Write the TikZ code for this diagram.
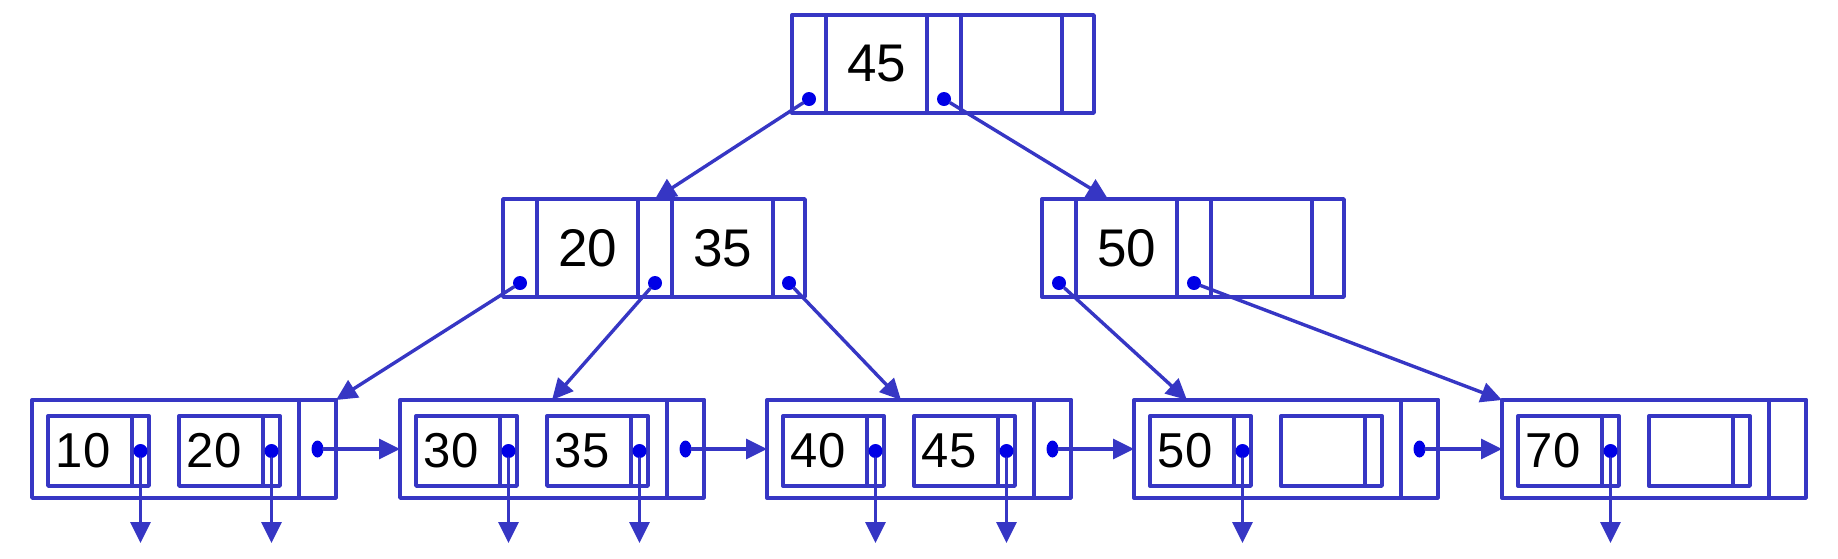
\documentclass[tikz,border=0pt]{standalone}
\usepackage{fontspec}
\setmainfont{Liberation Sans}
\usetikzlibrary{arrows.meta,shapes.geometric}
\definecolor{bblue}{RGB}{54,54,196}
\definecolor{dblue}{RGB}{0,0,230}
\begin{document}
\begin{tikzpicture}[x=0.5pt, y=-0.5pt, line join=round, line cap=round,
  >={Triangle[length=10.5pt,width=10pt]},
  cell/.style={draw=bblue, line width=1.7pt, inner sep=0pt, outer sep=0pt, anchor=north west},
  ptr/.style={cell, minimum width=17pt, minimum height=49pt},
  key/.style={cell, minimum width=50.5pt, minimum height=49pt, font=\fontsize{26.5}{30}\selectfont},
  leaf/.style={cell, minimum width=152pt, minimum height=49pt},
  entry/.style={cell, minimum width=42pt, minimum height=35pt},
  eptr/.style={cell, minimum width=8.5pt, minimum height=35pt},
  num/.style={inner sep=0pt, anchor=west, font=\fontsize{24.5}{28}\selectfont},
  dot/.style={circle, fill=dblue, inner sep=0pt, minimum size=7pt},
  link/.style={draw=bblue, line width=1.7pt, ->}]
\useasboundingbox (0,0) rectangle (1838,558);
% inner nodes
\foreach \n/\x/\y/\ka/\kb in {r/792/15/45/{}, a/503/199/20/35, b/1042/199/50/{}}{
  \node[ptr] (\n-p0) at (\x,\y) {};
  \node[key] (\n-k1) at (\x+34,\y) {\ka};
  \node[ptr] (\n-p1) at (\x+135,\y) {};
  \node[key] (\n-k2) at (\x+169,\y) {\kb};
  \node[ptr, minimum width=16pt] (\n-p2) at (\x+270,\y) {};
}
\foreach \c in {r-p0,r-p1,a-p0,a-p1,a-p2,b-p0,b-p1}
  \node[dot] (\c-d) at ([yshift=7pt]\c.south) {};
% leaves
\foreach \n/\x/\ka/\kb in {l1/32/10/20, l2/400/30/35, l3/767/40/45, l4/1134/50/{}, l5/1502/70/{}}{
  \node[leaf] (\n) at (\x,400) {};
  \node[ptr, minimum width=18.5pt] (\n-p) at (\x+267,400) {};
  \node[entry] (\n-k1) at (\x+16,416) {};
  \node[eptr] (\n-q1) at (\x+100,416) {};
  \node[entry] (\n-k2) at (\x+147,416) {};
  \node[eptr] (\n-q2) at (\x+231,416) {};
  \node[num] (\n-t1) at ([xshift=3.75pt]\n-k1.west) {\ka};
  \node[num] (\n-t2) at ([xshift=3.75pt]\n-k2.west) {\kb};
}
% records below the leaves
\foreach \e in {l1-q1,l1-q2,l2-q1,l2-q2,l3-q1,l3-q2,l4-q1,l5-q1}{
  \node[dot] (\e-d) at (\e.center) {};
  \coordinate (\e-end) at ([yshift=-46pt]\e.center);
  \draw[link] (\e-d) -- (\e-end);
}
% leaf chain
\foreach \n/\m in {l1/l2, l2/l3, l3/l4, l4/l5}{
  \node[dot, ellipse, minimum width=6pt, minimum height=8.5pt] (\n-pd) at (\n-p.center) {};
  \draw[link] (\n-pd) -- (\m.west);
}
% tree
\draw[link] (r-p0-d) -- (a-p1.north);
\draw[link] (r-p1-d) -- ([xshift=16pt]b-k1.north west);
\draw[link] (a-p0-d) -- (l1.north east);
\draw[link] (a-p1-d) -- (l2.north);
\draw[link] (a-p2-d) -- ([xshift=-9pt]l3.north);
\draw[link] (b-p0-d) -- ([xshift=26.5pt]l4.north west);
\draw[link] (b-p1-d) -- (l5.north west);
\end{tikzpicture}
\end{document}
